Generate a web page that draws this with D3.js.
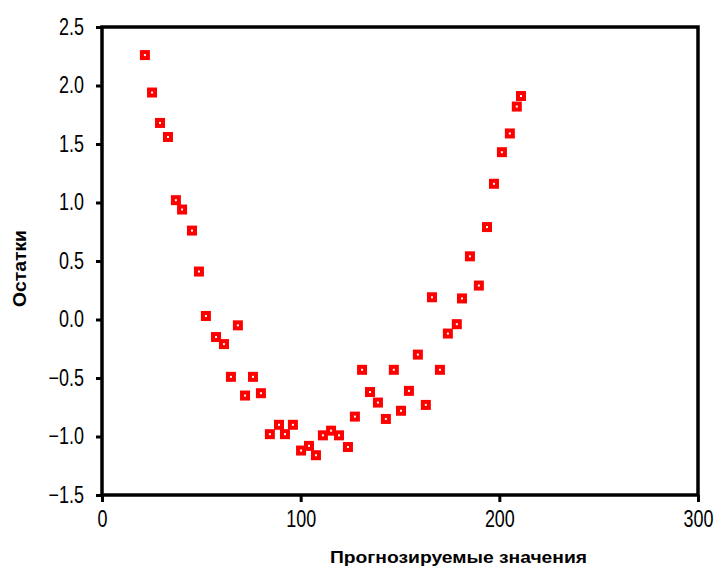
<!DOCTYPE html>
<html>
<head>
<meta charset="utf-8">
<style>
  body { margin: 0; background: #fff; }
  .tick text { font-family: "Liberation Sans", Arial, sans-serif; }
</style>
</head>
<body>
<script src="https://d3js.org/d3.v7.min.js"></script>
<script>
    // predicted values (x) and residuals (y)
    var predicted = [21.6, 25.2, 29.2, 33.2, 37.2, 40.3, 45.3, 48.8, 52.3, 57.4,
                     61.4, 68.4, 64.9, 72.0, 76.0, 80.0, 84.5, 89.1, 92.1, 96.1,
                     100.2, 104.2, 107.7, 111.2, 115.3, 119.3, 123.8, 127.3, 130.9, 134.9,
                     138.9, 142.9, 146.9, 150.5, 154.5, 159.0, 163.0, 166.1, 170.1, 174.1,
                     178.6, 181.2, 185.2, 189.7, 193.8, 197.3, 201.3, 205.3, 208.8, 210.9];
    var residuals = [2.26, 1.94, 1.68, 1.56, 1.02, 0.94, 0.76, 0.41, 0.03, -0.15,
                     -0.21, -0.05, -0.49, -0.65, -0.49, -0.63, -0.98, -0.90, -0.98, -0.90,
                     -1.12, -1.08, -1.16, -0.99, -0.95, -0.99, -1.09, -0.83, -0.43, -0.62,
                     -0.71, -0.85, -0.43, -0.78, -0.61, -0.30, -0.73, 0.19, -0.43, -0.12,
                     -0.04, 0.18, 0.54, 0.29, 0.79, 1.16, 1.43, 1.59, 1.82, 1.91];
    var xTicks = [0, 100, 200, 300];
    var yTicks = [-1.5, -1.0, -0.5, 0.0, 0.5, 1.0, 1.5, 2.0, 2.5];
    var xTitle = "Прогнозируемые значения";
    var yTitle = "Остатки";

    var data = predicted.map(function(d, i) { return {x: d, y: residuals[i]}; });

    var margin = {top: 27, right: 19, bottom: 73, left: 102},
        width = 717 - margin.left - margin.right,
        height = 568 - margin.top - margin.bottom;

    // tick labels in the picture are tall and narrow
    var squeeze = 0.78;

    var svg = d3.select("body")
        .append("svg")
        .attr("width", width + margin.left + margin.right)
        .attr("height", height + margin.top + margin.bottom)
        .append("g")
        .attr("transform", "translate(" + margin.left + "," + margin.top + ")");

    var xScale = d3.scaleLinear().domain([0, 300]).range([0, width]);
    var yScale = d3.scaleLinear().domain([-1.5, 2.5]).range([height, 0]);

    // x axis
    var gx = svg.append("g")
        .attr("transform", "translate(0," + height + ")")
        .call(d3.axisBottom(xScale).tickValues(xTicks).tickSize(7).tickPadding(9).tickFormat(d3.format("d")));
    gx.select(".domain").remove();
    gx.selectAll("line").attr("stroke", "#000").attr("stroke-width", 3);
    gx.selectAll("text")
        .attr("fill", "#000")
        .attr("transform", "scale(" + squeeze + ",1)")
        .style("font-size", "23px");

    // y axis
    var gy = svg.append("g")
        .call(d3.axisLeft(yScale).tickValues(yTicks).tickSize(6).tickPadding(12).tickFormat(d3.format(".1f")));
    gy.select(".domain").remove();
    gy.selectAll("line").attr("stroke", "#000").attr("stroke-width", 3);
    gy.selectAll("text")
        .attr("fill", "#000")
        .attr("x", -18 / squeeze)
        .attr("transform", "scale(" + squeeze + ",1)")
        .style("font-size", "23px");

    // plot frame
    svg.append("rect")
        .attr("x", 0)
        .attr("y", 0)
        .attr("width", width)
        .attr("height", height)
        .attr("fill", "none")
        .attr("stroke", "#000")
        .attr("stroke-width", 3.5);

    // points
    svg.append("g")
        .selectAll("rect")
        .data(data)
        .enter()
        .append("rect")
        .attr("x", function(d) { return xScale(d.x) - 3; })
        .attr("y", function(d) { return yScale(d.y) - 3; })
        .attr("width", 6)
        .attr("height", 6)
        .attr("fill", "#fff")
        .attr("stroke", "#ff0000")
        .attr("stroke-width", 4);

    // axis titles
    svg.append("text")
        .attr("x", 330 - margin.left)
        .attr("y", 563 - margin.top)
        .attr("textLength", 257)
        .attr("lengthAdjust", "spacingAndGlyphs")
        .style("font-family", "Arial, 'Liberation Sans', sans-serif")
        .style("font-weight", "bold")
        .style("font-size", "16px")
        .text(xTitle);

    svg.append("text")
        .attr("transform", "rotate(-90)")
        .attr("x", -(307 - margin.top))
        .attr("y", 26 - margin.left)
        .attr("textLength", 77)
        .attr("lengthAdjust", "spacingAndGlyphs")
        .style("font-family", "Arial, 'Liberation Sans', sans-serif")
        .style("font-weight", "bold")
        .style("font-size", "18px")
        .text(yTitle);
</script>
</body>
</html>
